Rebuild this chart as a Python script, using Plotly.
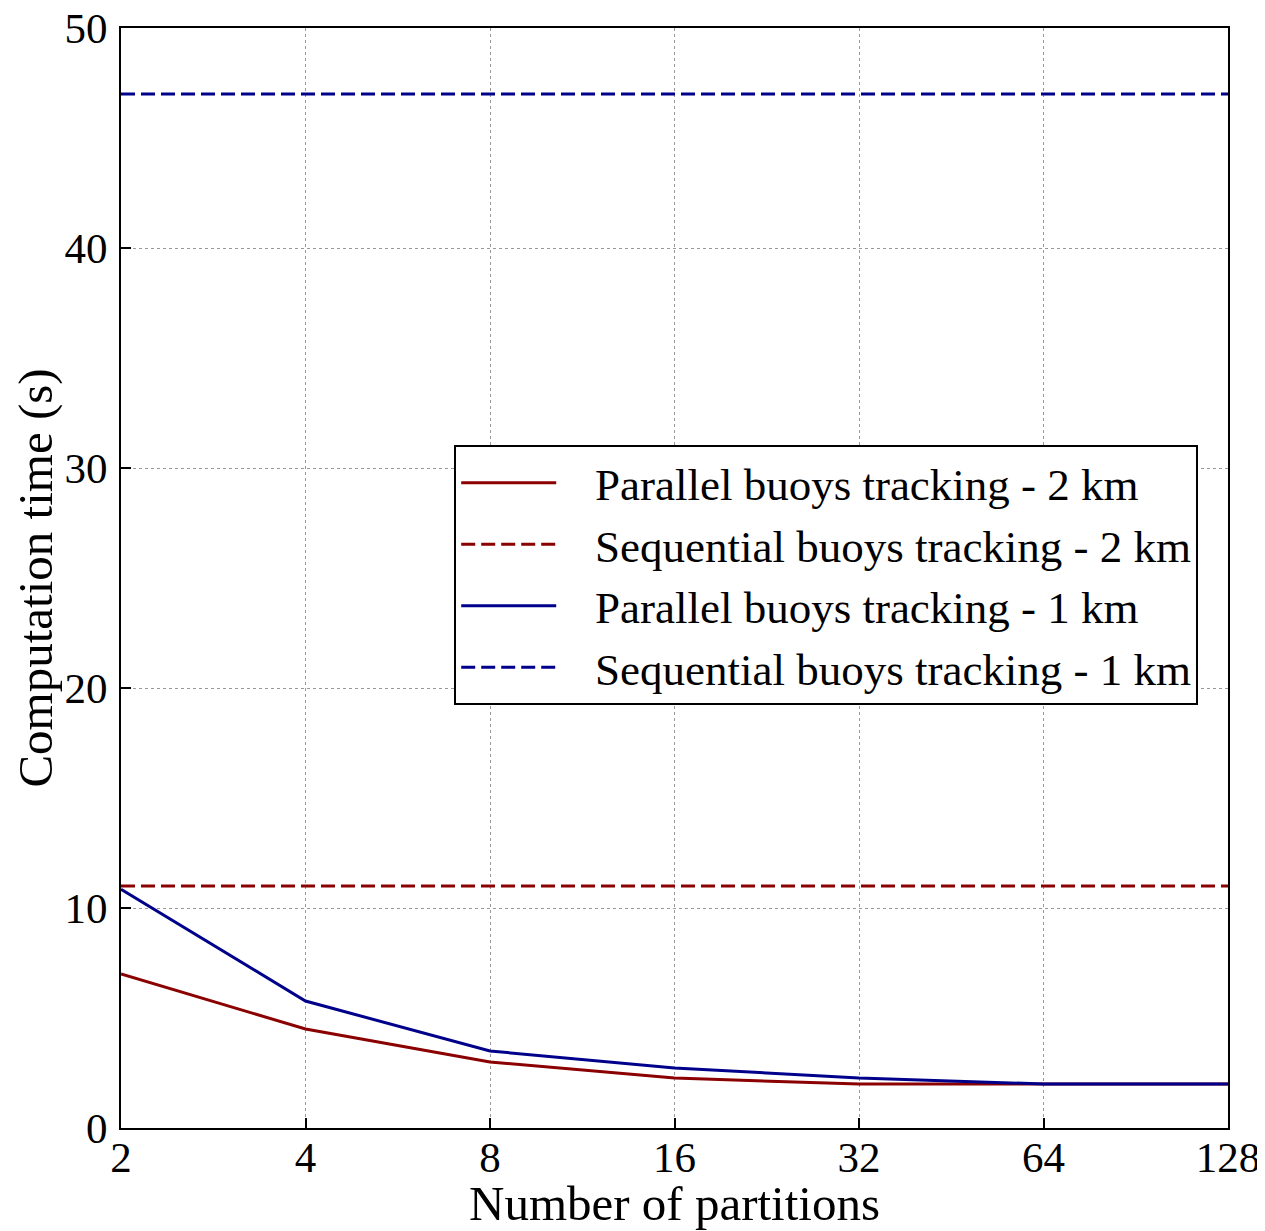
import plotly.graph_objects as go

partitions = [2, 4, 8, 16, 32, 64, 128]
parallel_2km = [7.0, 4.5, 3.0, 2.27, 2.0, 2.0, 2.0]
parallel_1km = [10.85, 5.77, 3.5, 2.73, 2.27, 2.0, 2.0]
sequential_2km = [11.0] * len(partitions)
sequential_1km = [47.0] * len(partitions)
series_names = [
    "Parallel buoys tracking - 2 km",
    "Sequential buoys tracking - 2 km",
    "Parallel buoys tracking - 1 km",
    "Sequential buoys tracking - 1 km",
]

RED = "#8B0000"
BLUE = "#00008B"
FONT = "'Liberation Serif', 'Times New Roman', serif"
PAD = "\u00a0\u00a0\u00a0"

fig = go.Figure()
fig.add_trace(go.Scatter(x=partitions, y=parallel_2km, mode="lines",
                         name=PAD + series_names[0],
                         line=dict(color=RED, width=3)))
fig.add_trace(go.Scatter(x=partitions, y=sequential_2km, mode="lines",
                         name=PAD + series_names[1],
                         line=dict(color=RED, width=3, dash="14px,6px")))
fig.add_trace(go.Scatter(x=partitions, y=parallel_1km, mode="lines",
                         name=PAD + series_names[2],
                         line=dict(color=BLUE, width=3)))
fig.add_trace(go.Scatter(x=partitions, y=sequential_1km, mode="lines",
                         name=PAD + series_names[3],
                         line=dict(color=BLUE, width=3, dash="14px,6px")))

axis_common = dict(
    showline=True, linecolor="black", linewidth=2, mirror=True,
    ticks="inside", ticklen=10, tickwidth=2, tickcolor="black",
    showgrid=True, gridcolor="#999999", gridwidth=1, griddash="dot",
    zeroline=False, automargin=False, ticklabeloverflow="allow",
    tickfont=dict(family=FONT, size=43, color="black"),
)

fig.update_xaxes(
    type="log", range=[0.30103, 2.10721],
    tickvals=partitions, ticktext=[str(p) for p in partitions],
    ticklabelstandoff=-10,
    title=dict(text="Number of partitions", font=dict(family=FONT, size=49, color="black"),
               standoff=0),
    **axis_common,
)
fig.update_yaxes(
    range=[0, 50], tickvals=[0, 10, 20, 30, 40, 50],
    ticklabelstandoff=3,
    title=dict(text="Computation time (s)", font=dict(family=FONT, size=49, color="black"),
               standoff=1),
    **axis_common,
)

fig.update_layout(
    width=1257, height=1223,
    margin=dict(l=113, r=37, t=20, b=103),
    plot_bgcolor="white", paper_bgcolor="white",
    font=dict(family=FONT, color="black"),
    legend=dict(
        x=0.301, y=0.621, xanchor="left", yanchor="top",
        bordercolor="black", borderwidth=2, bgcolor="white",
        font=dict(family=FONT, size=45, color="black"),
        itemwidth=95,
    ),
)

fig.write_html("out.html")
